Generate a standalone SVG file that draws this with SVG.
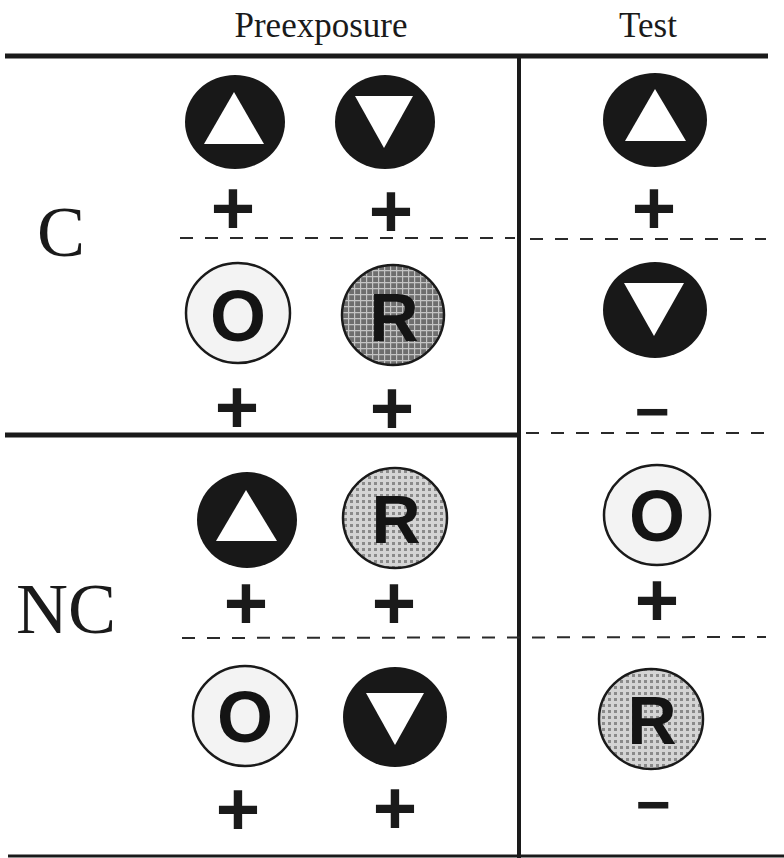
<svg xmlns="http://www.w3.org/2000/svg" width="784" height="858" viewBox="0 0 784 858">
<style>
.hdr{font-family:"Liberation Serif","Times New Roman",serif;font-size:35px;fill:#1a1a1a;text-anchor:middle}
.lbl{font-family:"Liberation Serif","Times New Roman",serif;font-size:72px;fill:#1a1a1a}
.sign{font-family:"Liberation Sans",Arial,sans-serif;font-weight:bold;fill:#1a1a1a;text-anchor:middle}
.plus{font-size:76px}
.minus{font-size:60px}
.let{font-family:"Liberation Sans",Arial,sans-serif;font-weight:bold;fill:#141414;text-anchor:middle}
.dark{fill:#181818}
.white{fill:#ffffff}
.ring{stroke:#1a1a1a;stroke-width:2.5}
.rule{stroke:#1a1a1a;fill:none}
.dash{stroke:#2a2a2a;stroke-width:2;stroke-dasharray:13 12;fill:none}
</style>
<defs>
<pattern id="gridDark" width="6" height="6" patternUnits="userSpaceOnUse">
<rect width="6" height="6" fill="#6e6e6e"/>
<path d="M0 0.5H6M0.5 0V6" stroke="#c4c4c4" stroke-width="1.4"/>
</pattern>
<pattern id="gridLight" width="6" height="6" patternUnits="userSpaceOnUse">
<rect width="6" height="6" fill="#d4d4d4"/>
<rect x="2" y="2" width="3" height="3" fill="#8a8a8a"/>
</pattern>
</defs>
<rect width="784" height="858" fill="#ffffff"/>

<g id="headers">
<text class="hdr" x="321" y="37">Preexposure</text>
<text class="hdr" x="648" y="37">Test</text>
</g>
<g id="row-labels">
<text class="lbl" x="37" y="256">C</text>
<text class="lbl" x="16" y="633">NC</text>
</g>

<g id="connectors">
<line class="rule" x1="5" y1="56" x2="768" y2="56" stroke-width="5"/>
<line class="rule" x1="519" y1="56" x2="519" y2="858" stroke-width="4"/>
<line class="rule" x1="5" y1="435" x2="521" y2="435" stroke-width="5"/>
<line class="rule" x1="8" y1="856" x2="784" y2="856" stroke-width="3"/>
<line class="dash" x1="180" y1="238" x2="515" y2="238"/>
<line class="dash" x1="530" y1="239" x2="766" y2="239"/>
<line class="dash" x1="526" y1="433" x2="770" y2="433"/>
<line class="dash" x1="182" y1="638" x2="766" y2="637"/>
</g>

<!-- Row 1: C -->
<g id="c1-pre-up">
<ellipse class="dark" cx="235" cy="122" rx="50" ry="47"/>
<polygon class="white" points="234,92 204,144 264,144"/>
<text class="sign plus" x="233" y="234">+</text>
</g>
<g id="c1-pre-down">
<ellipse class="dark" cx="385" cy="122" rx="50" ry="47"/>
<polygon class="white" points="355,96 413,96 384,148"/>
<text class="sign plus" x="391" y="237">+</text>
</g>
<g id="c1-test-up">
<ellipse class="dark" cx="655" cy="120" rx="52" ry="47"/>
<polygon class="white" points="655,89 625,141 686,141"/>
<text class="sign plus" x="654" y="234">+</text>
</g>

<!-- Row 2: C -->
<g id="c2-pre-O">
<ellipse class="ring" fill="#f3f3f3" cx="238" cy="313" rx="52" ry="50"/>
<text class="let" x="238" y="341" font-size="72">O</text>
<text class="sign plus" x="237" y="433">+</text>
</g>
<g id="c2-pre-R">
<ellipse class="ring" fill="url(#gridDark)" cx="393" cy="315" rx="51" ry="50"/>
<text class="let" x="394" y="341" font-size="68">R</text>
<text class="sign plus" x="392" y="434">+</text>
</g>
<g id="c2-test-down">
<ellipse class="dark" cx="655" cy="310" rx="52" ry="48"/>
<polygon class="white" points="624,283 684,283 654,336"/>
<text class="sign minus" x="652" y="432">−</text>
</g>

<!-- Row 3: NC -->
<g id="nc1-pre-up">
<ellipse class="dark" cx="247" cy="520" rx="50" ry="48"/>
<polygon class="white" points="246,490 216,541 277,541"/>
<text class="sign plus" x="246" y="629">+</text>
</g>
<g id="nc1-pre-R">
<ellipse class="ring" fill="url(#gridLight)" cx="395" cy="518" rx="52" ry="50"/>
<text class="let" x="396" y="543" font-size="68">R</text>
<text class="sign plus" x="394" y="629">+</text>
</g>
<g id="nc1-test-O">
<ellipse class="ring" fill="#f3f3f3" cx="657" cy="515" rx="53" ry="50"/>
<text class="let" x="657" y="541" font-size="72">O</text>
<text class="sign plus" x="657" y="626">+</text>
</g>

<!-- Row 4: NC -->
<g id="nc2-pre-O">
<ellipse class="ring" fill="#f3f3f3" cx="245" cy="716" rx="52" ry="50"/>
<text class="let" x="245" y="742" font-size="72">O</text>
<text class="sign plus" x="238" y="835">+</text>
</g>
<g id="nc2-pre-down">
<ellipse class="dark" cx="395" cy="717" rx="52" ry="50"/>
<polygon class="white" points="366,693 424,693 395,745"/>
<text class="sign plus" x="395" y="834">+</text>
</g>
<g id="nc2-test-R">
<ellipse class="ring" fill="url(#gridLight)" cx="651" cy="719" rx="52" ry="50"/>
<text class="let" x="652" y="744" font-size="68">R</text>
<text class="sign minus" x="653" y="825">−</text>
</g>
</svg>
